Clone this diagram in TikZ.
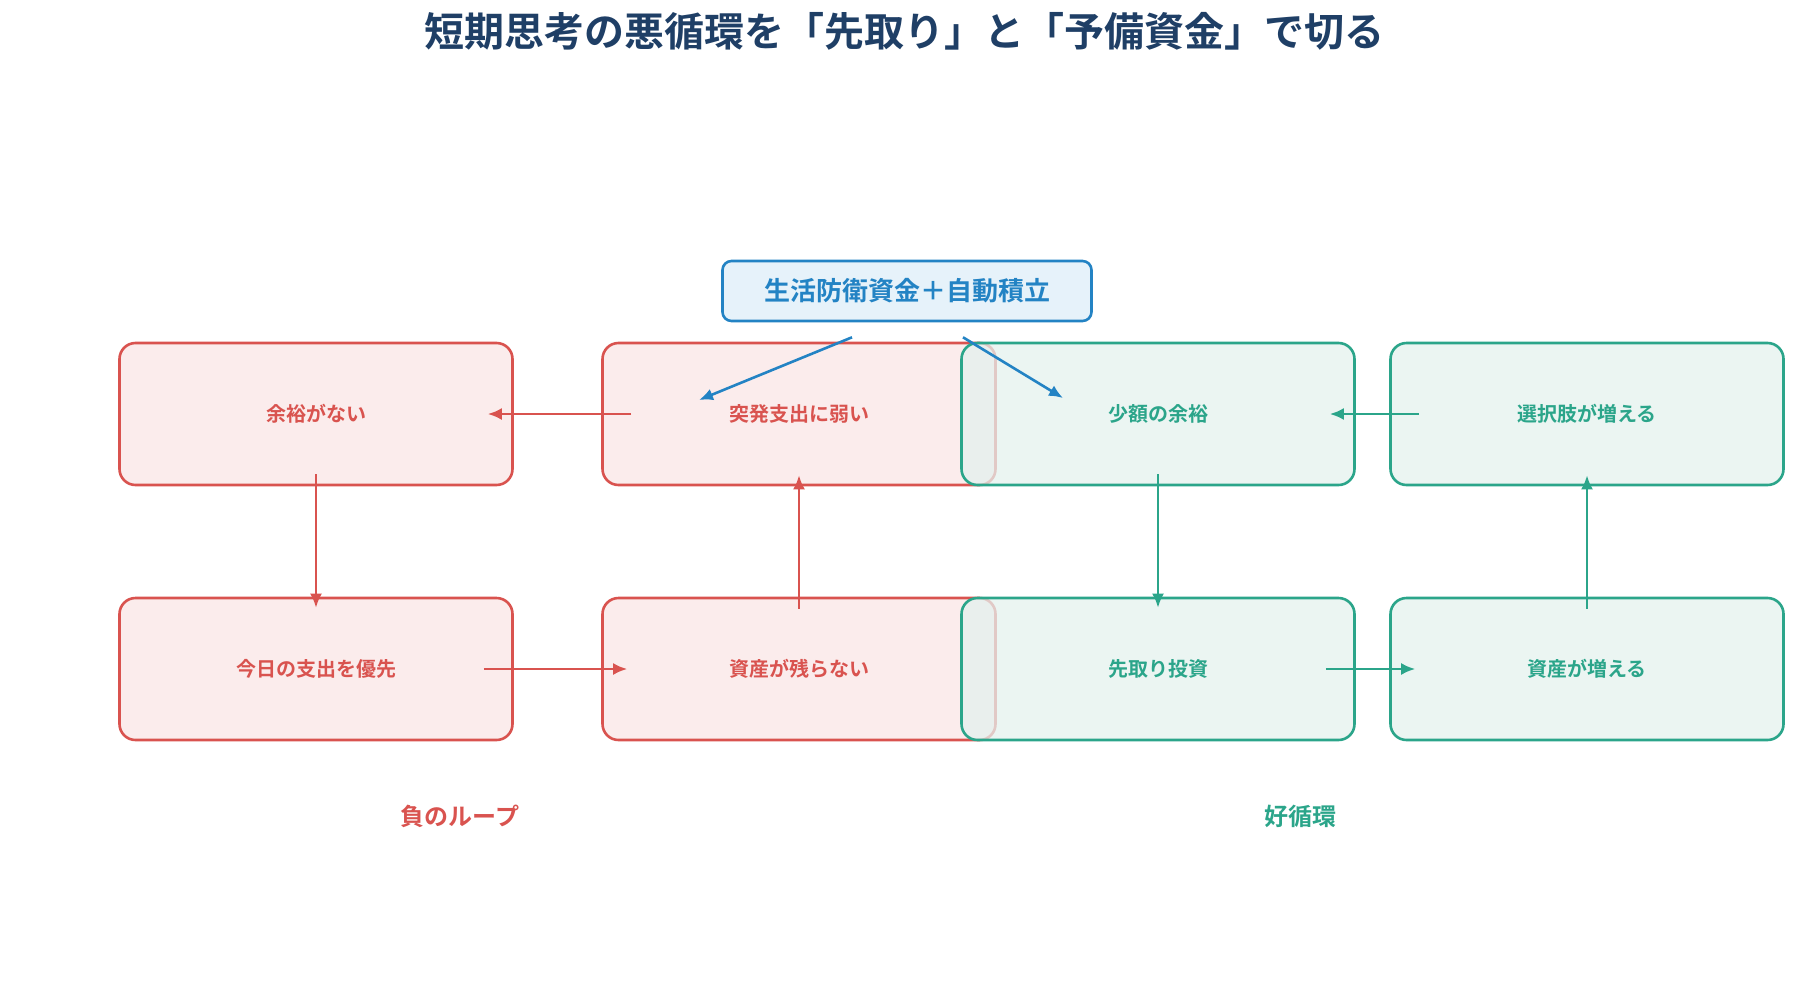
\documentclass[tikz,border=0pt]{standalone}
\usepackage{fontspec}
\setmainfont{Noto Sans CJK JP}[BoldFont={* Bold}]
\usetikzlibrary{positioning,calc,arrows.meta}
\definecolor{badc}{HTML}{D9534F}
\definecolor{badf}{HTML}{F9E6E5}
\definecolor{goodc}{HTML}{2BA58A}
\definecolor{goodf}{HTML}{E4F1EE}
\definecolor{fixc}{HTML}{2383C4}
\definecolor{fixf}{HTML}{E6F2FA}
\definecolor{titlec}{HTML}{1F3F66}
\tikzset{
  box/.style={rounded corners=16pt, line width=2.6pt, minimum width=393pt, minimum height=142pt, font=\fontsize{20}{24}\selectfont\bfseries, fill opacity=0.75, text opacity=1},
  bad/.style={box, draw=badc, fill=badf, text=badc},
  good/.style={box, draw=goodc, fill=goodf, text=goodc},
  harr/.style={->, line width=2.6pt, shorten <=-30pt, shorten >=-26pt},
  varr/.style={->, line width=2.6pt, shorten <=-12pt, shorten >=-11pt},
}
\begin{document}
\begin{tikzpicture}[x=1pt, y=-1pt, line join=round, >={Latex[length=14pt,width=12pt]}]
	\useasboundingbox (0,0) rectangle (1807,1004);
	%Tiêu đề.
	\node[text=titlec, font=\fontsize{40}{48}\selectfont\bfseries] (title) at (904,31) {短期思考の悪循環を「先取り」と「予備資金」で切る};
	%Hộp.
	\node[bad] (noroom) at (316,414) {余裕がない};
	\node[bad] (weak) at (799,414) {突発支出に弱い};
	\node[bad] (today) at (316,669) {今日の支出を優先};
	\node[bad] (noasset) at (799,669) {資産が残らない};
	\node[good] (small) at (1158,414) {少額の余裕};
	\node[good] (choice) at (1587,414) {選択肢が増える};
	\node[good] (invest) at (1158,669) {先取り投資};
	\node[good] (grow) at (1587,669) {資産が増える};
	\node[draw=fixc, fill=fixf, text=fixc, line width=2.6pt, rounded corners=9pt, minimum width=369pt, minimum height=60pt, font=\fontsize{26}{30}\selectfont\bfseries] (fix) at (907,291) {生活防衛資金＋自動積立};
	%Mũi tên.
	\draw[harr, badc] (weak) -- (noroom);
	\draw[varr, badc] (noroom) -- (today);
	\draw[harr, badc] (today) -- (noasset);
	\draw[varr, badc] (noasset) -- (weak);
	\draw[harr, goodc] (choice) -- (small);
	\draw[varr, goodc] (small) -- (invest);
	\draw[harr, goodc] (invest) -- (grow);
	\draw[varr, goodc] (grow) -- (choice);
	\coordinate (fixl) at ($(fix.south)+(-55,15)$);
	\coordinate (fixr) at ($(fix.south)+(56,15)$);
	\draw[->, line width=2.6pt, fixc] (fixl) -- (699,400);
	\draw[->, line width=2.6pt, fixc] (fixr) -- (1063,398);
	%Nhãn.
	\node[text=badc, font=\fontsize{24}{28}\selectfont\bfseries] (badlbl) at (460,816) {負のループ};
	\node[text=goodc, font=\fontsize{24}{28}\selectfont\bfseries] (goodlbl) at (1300,816) {好循環};
\end{tikzpicture}
\end{document}
